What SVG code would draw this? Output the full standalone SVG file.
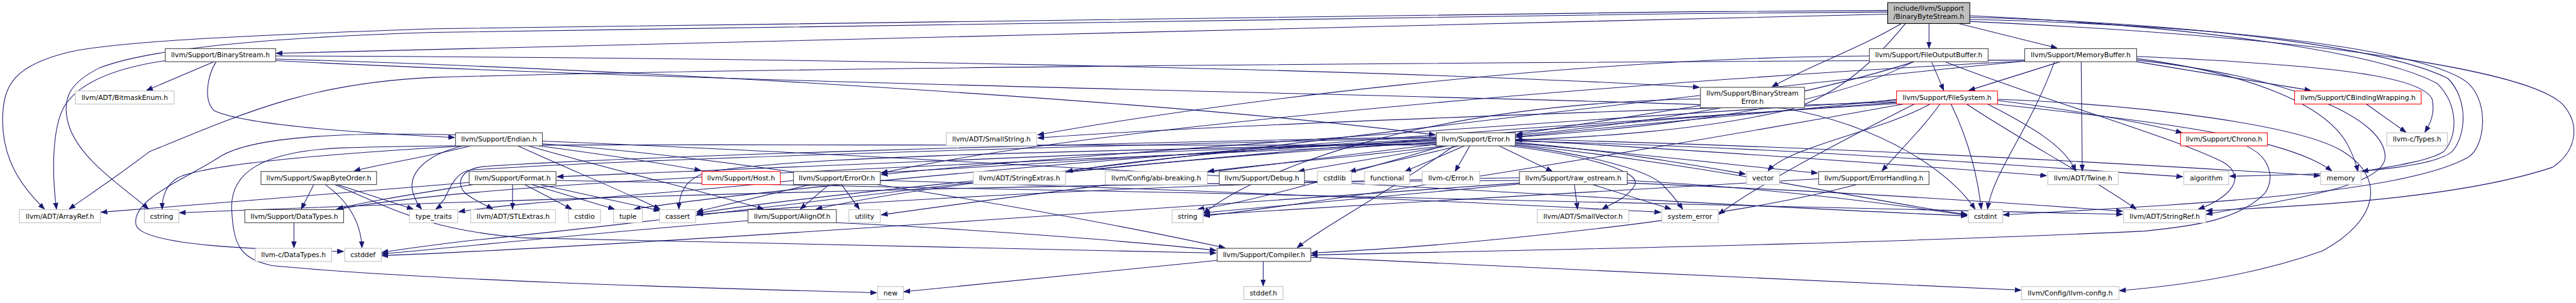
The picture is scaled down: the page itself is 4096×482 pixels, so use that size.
<svg xmlns="http://www.w3.org/2000/svg" width="4096" height="482" viewBox="0 0 4096 482">
<style>
.e{fill:none;stroke:#191970;stroke-width:1.3;marker-end:url(#a)}
rect{fill:#fff;stroke-width:1.3}
rect.b{stroke:#404040}
rect.g{stroke:#bfbfbf}
rect.r{stroke:#ff0000}
rect.root{fill:#bfbfbf;stroke:#000}
text{font-family:"DejaVu Sans","Liberation Sans",sans-serif;font-size:13px;text-anchor:middle;fill:#000}
</style>
<defs>
<marker id="a" markerUnits="userSpaceOnUse" markerWidth="12" markerHeight="10" viewBox="0 0 12 10" refX="12" refY="5" orient="auto"><path d="M0,0.5 L12,5 L0,9.5 z" fill="#191970" stroke="#191970" stroke-width="1"/></marker>
</defs>
<rect x="0" y="0" width="4096" height="482" fill="#fff" stroke="none"/>
<g transform="scale(0.83168)">
<g id="edges">
<path class="e" d="M3609,27 C2800,45 1400,82 528,102"/>
<path class="e" d="M3609,20 C2500,26 1300,42 830,55 C450,68 220,80 130,100 C30,125 5,160 5,230 C5,310 45,360 85,400"/>
<path class="e" d="M3609,23 C2500,30 1300,50 830,62 C500,72 280,95 190,130 C130,160 122,190 128,225 C140,300 240,360 284,400"/>
<path class="e" d="M3635,45 C3560,90 3450,130 3388,166"/>
<path class="e" d="M3643,45 C3590,110 3520,180 3420,210 C3250,250 3050,262 2898,268"/>
<path class="e" d="M3688,45 L3688,92"/>
<path class="e" d="M3745,45 L3933,92"/>
<path class="e" d="M3766,30 C4200,50 4550,100 4660,160 C4700,200 4700,260 4672,290 C4640,310 4560,320 4516,328"/>
<path class="e" d="M3766,33 C4200,45 4560,90 4680,150 C4720,190 4715,260 4688,290 C4640,330 4400,335 4263,337"/>
<path class="e" d="M3766,37 C4300,50 4650,100 4720,160 C4760,200 4750,280 4720,300 C4600,370 4200,390 3830,411"/>
<path class="e" d="M3766,41 C4400,70 4830,130 4900,200 C4935,240 4925,290 4880,320 C4700,380 4400,395 4218,403"/>
<path class="e" d="M409,118 L280,173"/>
<path class="e" d="M413,118 C394,150 390,195 410,212 C470,240 700,255 869,263"/>
<path class="e" d="M316,116 C220,130 150,158 122,205 C98,250 100,340 108,400"/>
<path class="e" d="M527,107 C1500,110 2600,130 3249,167"/>
<path class="e" d="M527,113 C1300,135 2300,200 2744,258"/>
<path class="e" d="M527,116 C1500,165 3000,185 3410,207 C3600,240 3730,330 3776,400"/>
<path class="e" d="M3251,202 L2899,257"/>
<path class="e" d="M3251,189 C2700,200 2400,330 2301,408"/>
<path class="e" d="M3693,118 L3716,173"/>
<path class="e" d="M3574,107 C3000,110 2300,200 1984,258"/>
<path class="e" d="M3719,118 C3900,190 4150,260 4250,310 C4300,340 4260,380 4203,400"/>
<path class="e" d="M3658,118 C3450,230 3000,262 2500,285 C1500,330 900,352 642,401"/>
<path class="e" d="M3660,118 C3400,200 3100,240 2898,259"/>
<path class="e" d="M3939,118 L3764,173"/>
<path class="e" d="M4085,118 L4418,173"/>
<path class="e" d="M4085,108 C4400,122 4630,140 4650,190 C4656,220 4645,238 4636,253"/>
<path class="e" d="M3979,118 L3981,327"/>
<path class="e" d="M3871,115 C3000,118 1500,128 830,148 C600,158 480,210 286,290 C220,340 160,380 132,400"/>
<path class="e" d="M3871,117 C3200,150 2100,240 1685,331"/>
<path class="e" d="M3871,117 C3000,200 1500,400 900,460 C800,472 760,478 730,483"/>
<path class="e" d="M3928,118 C3880,250 3810,330 3800,400"/>
<path class="e" d="M4085,112 C4300,140 4450,200 4490,280 C4500,300 4505,315 4508,328"/>
<path class="e" d="M4085,115 C4400,150 4560,230 4560,300 C4560,360 4350,385 4218,410"/>
<path class="e" d="M3626,195 C3000,215 2300,240 1984,264"/>
<path class="e" d="M3819,192 C4000,215 4120,240 4172,254"/>
<path class="e" d="M3819,190 C4100,200 4400,240 4480,290 C4560,340 4550,420 4440,480 C4300,530 4150,548 4052,556"/>
<path class="e" d="M3760,199 C3850,260 4000,340 4084,400"/>
<path class="e" d="M3800,199 C3880,240 3950,280 3968,327"/>
<path class="e" d="M3815,199 C4100,230 4370,260 4458,327"/>
<path class="e" d="M3709,199 C3680,240 3640,280 3598,327"/>
<path class="e" d="M3690,199 C3600,250 3420,280 3380,327"/>
<path class="e" d="M3626,190 C3400,215 3100,240 2898,262"/>
<path class="e" d="M3626,192 C3000,230 2000,300 1685,334"/>
<path class="e" d="M3626,196 C3000,240 1700,350 1332,408"/>
<path class="e" d="M3730,199 C3760,260 3780,330 3788,400"/>
<path class="e" d="M3640,199 C3300,260 2600,380 2301,413"/>
<path class="e" d="M3660,199 C3500,280 3350,360 3286,410"/>
<path class="e" d="M3626,198 C2800,250 1600,340 1212,400"/>
<path class="e" d="M2760,279 C2600,300 2400,315 2309,328"/>
<path class="e" d="M2768,279 C2650,300 2550,315 2482,328"/>
<path class="e" d="M2790,279 L2580,328"/>
<path class="e" d="M2800,279 L2686,328"/>
<path class="e" d="M2810,279 L2782,328"/>
<path class="e" d="M2866,279 L2968,328"/>
<path class="e" d="M2885,279 C3050,300 3140,330 3125,355 C3110,380 3080,390 3063,400"/>
<path class="e" d="M2890,277 C3000,290 3150,320 3180,355 C3200,375 3210,390 3217,400"/>
<path class="e" d="M2897,270 C3400,280 3900,320 4173,338"/>
<path class="e" d="M2897,266 C3500,280 4100,315 4436,336"/>
<path class="e" d="M2897,268 C3300,290 3700,320 3913,336"/>
<path class="e" d="M2897,272 C3100,290 3250,318 3337,333"/>
<path class="e" d="M2897,274 C3150,295 3350,320 3475,331"/>
<path class="e" d="M2897,276 C3300,320 3600,390 3761,410"/>
<path class="e" d="M2780,279 C2650,370 2520,440 2480,474"/>
<path class="e" d="M2746,270 C2200,290 1500,320 1065,338"/>
<path class="e" d="M2746,268 C2300,290 1900,320 1685,330"/>
<path class="e" d="M2746,266 C2400,280 2150,310 2039,328"/>
<path class="e" d="M2746,272 C2300,300 1800,345 1560,400"/>
<path class="e" d="M2746,262 C2000,275 1200,300 930,318 C880,322 870,350 890,370 C910,385 930,393 942,400"/>
<path class="e" d="M2746,264 C2000,280 1200,305 900,325 C870,330 860,360 850,380 C840,392 836,398 833,400"/>
<path class="e" d="M2746,274 C2000,290 1500,300 1350,330 C1305,345 1298,375 1298,400"/>
<path class="e" d="M2746,276 C2300,330 1900,380 1685,411"/>
<path class="e" d="M2760,279 C2550,340 2380,390 2290,400"/>
<path class="e" d="M2746,277 C1800,280 1000,272 650,283 C500,290 440,330 443,400 C446,470 460,495 520,508 C800,535 1300,550 1676,560"/>
<path class="e" d="M900,279 C820,300 720,315 677,327"/>
<path class="e" d="M1030,279 C1150,295 1280,315 1340,326"/>
<path class="e" d="M1010,279 C1150,320 1380,375 1460,400"/>
<path class="e" d="M990,279 C1080,320 1200,370 1262,400"/>
<path class="e" d="M1037,275 C1400,300 2000,400 2342,474"/>
<path class="e" d="M871,258 C650,252 480,262 420,300 C360,340 250,380 260,430 C270,470 500,478 657,481"/>
<path class="e" d="M1037,270 C1800,300 3000,380 3761,413"/>
<path class="e" d="M890,279 C700,290 400,310 340,340 C315,355 310,380 310,400"/>
<path class="e" d="M885,279 C800,300 780,340 790,370 C795,385 800,393 806,400"/>
<path class="e" d="M600,353 L576,400"/>
<path class="e" d="M622,353 C660,380 690,420 692,474"/>
<path class="e" d="M645,353 L790,400"/>
<path class="e" d="M640,353 C750,400 820,440 1000,455 C1500,470 2000,478 2325,484"/>
<path class="e" d="M897,349 C700,365 400,390 193,406"/>
<path class="e" d="M905,353 C800,370 700,385 644,400"/>
<path class="e" d="M980,353 L980,400"/>
<path class="e" d="M1003,353 L1093,400"/>
<path class="e" d="M1016,353 L1175,400"/>
<path class="e" d="M1032,353 L1262,403"/>
<path class="e" d="M1063,345 C2000,365 3300,385 4058,410"/>
<path class="e" d="M1585,353 L1530,400"/>
<path class="e" d="M1550,353 L1332,405"/>
<path class="e" d="M1609,353 L1643,400"/>
<path class="e" d="M1683,345 C2200,360 2800,385 3175,406"/>
<path class="e" d="M1517,345 C1300,370 1000,385 877,405"/>
<path class="e" d="M1430,422 C1200,440 900,470 730,486"/>
<path class="e" d="M1599,426 C1900,440 2200,465 2325,479"/>
<path class="e" d="M562,426 L562,474"/>
<path class="e" d="M3010,353 L3016,400"/>
<path class="e" d="M3045,353 L3195,400"/>
<path class="e" d="M3111,350 C3500,365 3800,385 4058,404"/>
<path class="e" d="M3111,345 C3400,360 3650,395 3761,412"/>
<path class="e" d="M2905,340 C2200,350 1600,390 1332,410"/>
<path class="e" d="M2905,350 C2200,400 1200,470 730,489"/>
<path class="e" d="M2905,345 C2000,350 1000,380 343,407"/>
<path class="e" d="M2905,352 C2700,370 2450,395 2301,407"/>
<path class="e" d="M3477,342 C3200,360 2700,385 2301,411"/>
<path class="e" d="M3550,353 C3300,420 2800,470 2507,484"/>
<path class="e" d="M2415,500 L2415,547"/>
<path class="e" d="M2327,498 L1728,558"/>
<path class="e" d="M2506,492 C3000,515 3500,540 3864,555"/>
<path class="e" d="M4524,199 L4600,253"/>
<path class="e" d="M4296,280 C4340,300 4350,340 4330,370 C4280,420 4200,432 4100,442 C3500,470 2800,480 2507,488"/>
</g>
<g id="n-root"><rect class="root" x="3609" y="5" width="157" height="40"/><text x="3687.5" y="21">include/llvm/Support</text><text x="3687.5" y="36">/BinaryByteStream.h</text></g>
<g id="n-binarystream"><rect class="b" x="316" y="93" width="211" height="25"/><text x="421.5" y="110">llvm/Support/BinaryStream.h</text></g>
<g id="n-fileoutputbuffer"><rect class="b" x="3574" y="93" width="227" height="25"/><text x="3687.5" y="110">llvm/Support/FileOutputBuffer.h</text></g>
<g id="n-memorybuffer"><rect class="b" x="3871" y="93" width="214" height="25"/><text x="3978" y="110">llvm/Support/MemoryBuffer.h</text></g>
<g id="n-bitmaskenum"><rect class="g" x="144" y="174" width="189" height="25"/><text x="238.5" y="191">llvm/ADT/BitmaskEnum.h</text></g>
<g id="n-binarystreamerror"><rect class="b" x="3251" y="167" width="199" height="39"/><text x="3350.5" y="183">llvm/Support/BinaryStream</text><text x="3350.5" y="198">Error.h</text></g>
<g id="n-filesystem"><rect class="r" x="3626" y="174" width="193" height="25"/><text x="3722.5" y="191">llvm/Support/FileSystem.h</text></g>
<g id="n-cbindingwrapping"><rect class="r" x="4387" y="174" width="242" height="25"/><text x="4508" y="191">llvm/Support/CBindingWrapping.h</text></g>
<g id="n-endian"><rect class="b" x="871" y="254" width="166" height="25"/><text x="954" y="271">llvm/Support/Endian.h</text></g>
<g id="n-smallstring"><rect class="g" x="1809" y="254" width="173" height="25"/><text x="1895.5" y="271">llvm/ADT/SmallString.h</text></g>
<g id="n-error"><rect class="b" x="2746" y="254" width="151" height="25"/><text x="2821.5" y="271">llvm/Support/Error.h</text></g>
<g id="n-chrono"><rect class="r" x="4169" y="254" width="166" height="25"/><text x="4252" y="271">llvm/Support/Chrono.h</text></g>
<g id="n-ctypes"><rect class="g" x="4563" y="254" width="116" height="25"/><text x="4621" y="271">llvm-c/Types.h</text></g>
<g id="n-swapbyteorder"><rect class="b" x="499" y="328" width="221" height="25"/><text x="609.5" y="345">llvm/Support/SwapByteOrder.h</text></g>
<g id="n-format"><rect class="b" x="897" y="328" width="166" height="25"/><text x="980" y="345">llvm/Support/Format.h</text></g>
<g id="n-host"><rect class="r" x="1342" y="328" width="150" height="25"/><text x="1417" y="345">llvm/Support/Host.h</text></g>
<g id="n-erroror"><rect class="b" x="1517" y="328" width="166" height="25"/><text x="1600" y="345">llvm/Support/ErrorOr.h</text></g>
<g id="n-stringextras"><rect class="g" x="1861" y="328" width="176" height="25"/><text x="1949" y="345">llvm/ADT/StringExtras.h</text></g>
<g id="n-abibreaking"><rect class="g" x="2113" y="328" width="195" height="25"/><text x="2210.5" y="345">llvm/Config/abi-breaking.h</text></g>
<g id="n-debug"><rect class="b" x="2331" y="328" width="163" height="25"/><text x="2412.5" y="345">llvm/Support/Debug.h</text></g>
<g id="n-cstdlib"><rect class="g" x="2519" y="328" width="65" height="25"/><text x="2551.5" y="345">cstdlib</text></g>
<g id="n-functional"><rect class="g" x="2609" y="328" width="86" height="25"/><text x="2652" y="345">functional</text></g>
<g id="n-cerror"><rect class="g" x="2719" y="328" width="110" height="25"/><text x="2774" y="345">llvm-c/Error.h</text></g>
<g id="n-rawostream"><rect class="b" x="2905" y="328" width="206" height="25"/><text x="3008" y="345">llvm/Support/raw_ostream.h</text></g>
<g id="n-vector"><rect class="g" x="3339" y="328" width="63" height="25"/><text x="3370.5" y="345">vector</text></g>
<g id="n-errorhandling"><rect class="b" x="3477" y="328" width="211" height="25"/><text x="3582.5" y="345">llvm/Support/ErrorHandling.h</text></g>
<g id="n-twine"><rect class="g" x="3915" y="328" width="135" height="25"/><text x="3982.5" y="345">llvm/ADT/Twine.h</text></g>
<g id="n-algorithm"><rect class="g" x="4175" y="328" width="86" height="25"/><text x="4218" y="345">algorithm</text></g>
<g id="n-memory"><rect class="g" x="4437" y="328" width="77" height="25"/><text x="4475.5" y="345">memory</text></g>
<g id="n-arrayref"><rect class="g" x="37" y="401" width="155" height="25"/><text x="114.5" y="418">llvm/ADT/ArrayRef.h</text></g>
<g id="n-cstring"><rect class="g" x="276" y="401" width="66" height="25"/><text x="309" y="418">cstring</text></g>
<g id="n-datatypes"><rect class="b" x="468" y="401" width="189" height="25"/><text x="562.5" y="418">llvm/Support/DataTypes.h</text></g>
<g id="n-typetraits"><rect class="g" x="783" y="401" width="92" height="25"/><text x="829" y="418">type_traits</text></g>
<g id="n-stlextras"><rect class="g" x="900" y="401" width="162" height="25"/><text x="981" y="418">llvm/ADT/STLExtras.h</text></g>
<g id="n-cstdio"><rect class="g" x="1087" y="401" width="61" height="25"/><text x="1117.5" y="418">cstdio</text></g>
<g id="n-tuple"><rect class="g" x="1173" y="401" width="55" height="25"/><text x="1200.5" y="418">tuple</text></g>
<g id="n-cassert"><rect class="g" x="1261" y="401" width="69" height="25"/><text x="1295.5" y="418">cassert</text></g>
<g id="n-alignof"><rect class="b" x="1430" y="401" width="169" height="25"/><text x="1514.5" y="418">llvm/Support/AlignOf.h</text></g>
<g id="n-utility"><rect class="g" x="1623" y="401" width="60" height="25"/><text x="1653" y="418">utility</text></g>
<g id="n-string"><rect class="g" x="2241" y="401" width="59" height="25"/><text x="2270.5" y="418">string</text></g>
<g id="n-smallvector"><rect class="g" x="2939" y="401" width="175" height="25"/><text x="3026.5" y="418">llvm/ADT/SmallVector.h</text></g>
<g id="n-systemerror"><rect class="g" x="3177" y="401" width="108" height="25"/><text x="3231" y="418">system_error</text></g>
<g id="n-cstdint"><rect class="g" x="3763" y="401" width="66" height="25"/><text x="3796" y="418">cstdint</text></g>
<g id="n-stringref"><rect class="g" x="4060" y="401" width="157" height="25"/><text x="4138.5" y="418">llvm/ADT/StringRef.h</text></g>
<g id="n-cdatatypes"><rect class="g" x="488" y="475" width="146" height="25"/><text x="561" y="492">llvm-c/DataTypes.h</text></g>
<g id="n-cstddef"><rect class="g" x="659" y="475" width="70" height="25"/><text x="694" y="492">cstddef</text></g>
<g id="n-compiler"><rect class="b" x="2327" y="475" width="179" height="25"/><text x="2416.5" y="492">llvm/Support/Compiler.h</text></g>
<g id="n-new"><rect class="g" x="1678" y="548" width="49" height="25"/><text x="1702.5" y="565">new</text></g>
<g id="n-stddef"><rect class="g" x="2378" y="548" width="75" height="25"/><text x="2415.5" y="565">stddef.h</text></g>
<g id="n-llvmconfig"><rect class="g" x="3865" y="548" width="186" height="25"/><text x="3958" y="565">llvm/Config/llvm-config.h</text></g>
</g>
</svg>
